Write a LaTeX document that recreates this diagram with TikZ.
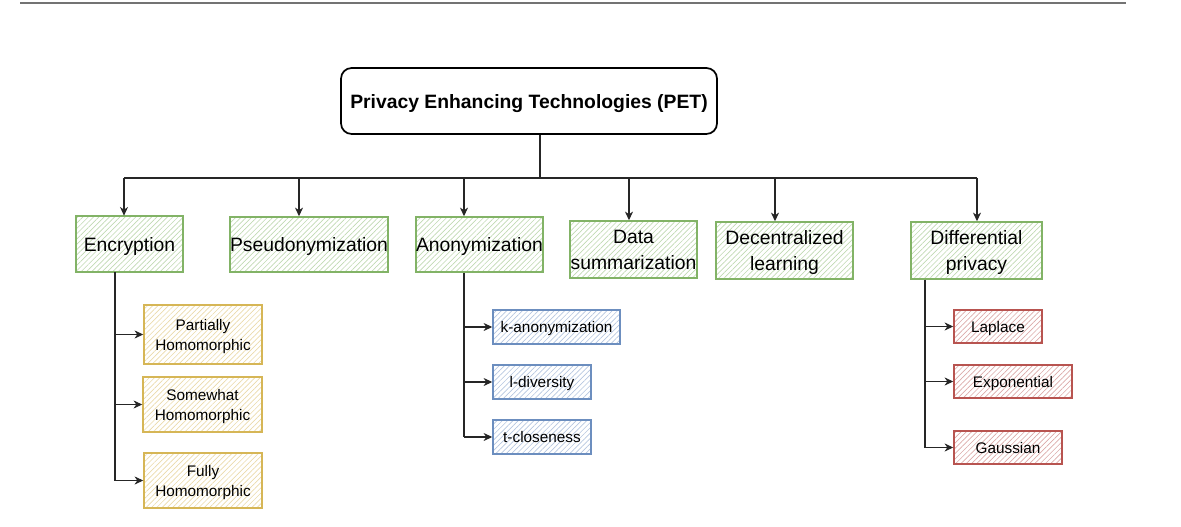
\documentclass[tikz,border=0pt]{standalone}
\usepackage{fontspec}
\setmainfont{Liberation Sans}
\usetikzlibrary{arrows.meta,patterns.meta,calc}
\definecolor{gS}{HTML}{82B366}
\definecolor{yS}{HTML}{D6B656}
\definecolor{bS}{HTML}{6C8EBF}
\definecolor{rS}{HTML}{B85450}
\tikzset{
  sz/.style 2 args={minimum width=#1*0.75pt, minimum height=#2*0.75pt, inner sep=0pt, text depth=0pt},
  hatch/.style={draw=#1, line width=1.1pt, pattern={Lines[angle=45,distance=2.8pt,line width=0.5pt]}, pattern color=#1!50},
  lvone/.style={hatch=gS, align=center, font=\fontsize{14.5}{19.5}\selectfont},
  lvtwo/.style={hatch=#1, align=center, font=\fontsize{11.5}{15}\selectfont},
  conn/.style={draw=black!85, line width=0.9pt},
  arr/.style={conn, -{Stealth[length=6.5pt,width=6pt,inset=2pt]}},
}
\begin{document}
\begin{tikzpicture}[x=0.75pt,y=-0.75pt]
\useasboundingbox (0,0) rectangle (1181,527);
\draw[draw=black!55, line width=1.5pt] (20,3) -- (1126,3);

\node[draw=black, line width=1.3pt, rounded corners=8pt, sz={376}{66}, font=\bfseries\fontsize{14.5}{18}\selectfont] (pet) at (529,101) {Privacy Enhancing Technologies (PET)};

\node[lvone, sz={107}{56}] (enc) at (129.5,244) {Encryption};
\node[lvone, sz={156}{55}] (pse) at (309,244.5) {Pseudonymization};
\node[lvone, sz={127}{55}] (ano) at (479.5,244.5) {Anonymization};
\node[lvone, sz={127}{57}] (dat) at (633.5,249.5) {Data\\summarization};
\node[lvone, sz={137}{57}] (dec) at (784.5,250.5) {Decentralized\\learning};
\node[lvone, sz={131}{57}] (dif) at (976.5,250.5) {Differential\\privacy};

\node[lvtwo=yS, sz={118}{59}] (par) at (203,334.5) {Partially\\Homomorphic};
\node[lvtwo=yS, sz={119}{55}] (som) at (202.5,404.5) {Somewhat\\Homomorphic};
\node[lvtwo=yS, sz={118}{55}] (ful) at (203,480.5) {Fully\\Homomorphic};

\node[lvtwo=bS, sz={127}{34}] (kan) at (556.5,327) {k-anonymization};
\node[lvtwo=bS, sz={98}{34}] (ldi) at (542,382) {l-diversity};
\node[lvtwo=bS, sz={98}{34}] (tcl) at (542,437) {t-closeness};

\node[lvtwo=rS, sz={88}{33}] (lap) at (998,326.5) {Laplace};
\node[lvtwo=rS, sz={118}{33}] (exn) at (1013,381.5) {Exponential};
\node[lvtwo=rS, sz={108}{33}] (gau) at (1008,447.5) {Gaussian};

% bus
\coordinate (bus) at (540,178);
\coordinate (b1) at (124,178);
\coordinate (b2) at (299,178);
\coordinate (b3) at (464,178);
\coordinate (b4) at (629,178);
\coordinate (b5) at (775,178);
\coordinate (b6) at (977,178);
\draw[conn] (pet.south -| bus) -- (bus);
\draw[conn] (b1) -- (b6);
\draw[arr] (b1) -- (b1 |- enc.north);
\draw[arr] (b2) -- (b2 |- pse.north);
\draw[arr] (b3) -- (b3 |- ano.north);
\draw[arr] (b4) -- (b4 |- dat.north);
\draw[arr] (b5) -- (b5 |- dec.north);
\draw[arr] (b6) -- (b6 |- dif.north);

% encryption children
\coordinate (ev) at (115,300);
\draw[conn] (ev |- enc.south) -- (ev |- ful.west);
\draw[arr] (ev |- par.west) -- (par.west);
\draw[arr] (ev |- som.west) -- (som.west);
\draw[arr] (ev |- ful.west) -- (ful.west);

% anonymization children
\coordinate (av) at (464,300);
\draw[conn] (av |- ano.south) -- (av |- tcl.west);
\draw[arr] (av |- kan.west) -- (kan.west);
\draw[arr] (av |- ldi.west) -- (ldi.west);
\draw[arr] (av |- tcl.west) -- (tcl.west);

% differential privacy children
\coordinate (dv) at (925,300);
\draw[conn] (dv |- dif.south) -- (dv |- gau.west);
\draw[arr] (dv |- lap.west) -- (lap.west);
\draw[arr] (dv |- exn.west) -- (exn.west);
\draw[arr] (dv |- gau.west) -- (gau.west);
\end{tikzpicture}
\end{document}
